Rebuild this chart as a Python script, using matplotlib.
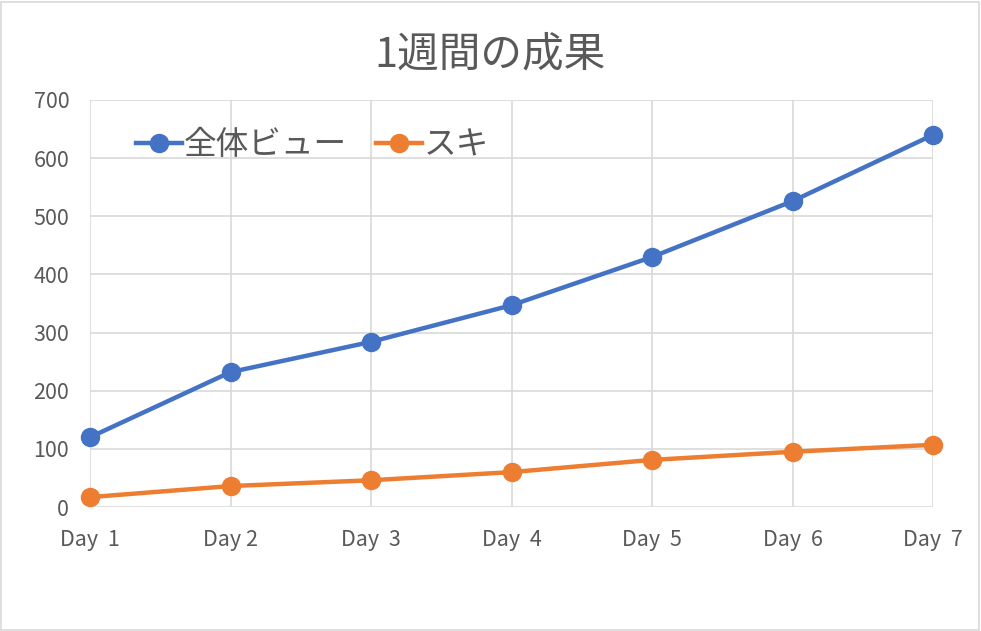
import numpy as np
import matplotlib.pyplot as plt
from matplotlib.patches import Rectangle

plt.rcParams['font.family'] = ['Noto Sans CJK JP', 'DejaVu Sans']

#データ
days = ['Day  1', 'Day 2', 'Day  3', 'Day  4', 'Day  5', 'Day  6', 'Day  7']
total_views = [120, 232, 284, 347, 430, 526, 640]
suki = [17, 36, 46, 60, 81, 95, 107]
yticks = [0, 100, 200, 300, 400, 500, 600, 700]

W, H = 981, 631
fig = plt.figure(figsize=(W / 100, H / 100), dpi=100)
ax = fig.add_axes([90 / W, (H - 507) / H, (933 - 90) / W, (507 - 100) / H])

x = np.arange(len(days))
ax.plot(x, total_views, color='#4472c4', lw=3.2, marker='o', ms=13, label='全体ビュー', zorder=3, clip_on=False)
ax.plot(x, suki, color='#ed7d31', lw=3.2, marker='o', ms=13, label='スキ', zorder=3, clip_on=False)

ax.set_xlim(0, len(days) - 1)
ax.set_ylim(0, 700)
ax.set_yticks(yticks)
ax.set_xticks(x)
ax.set_xticklabels(days)
ax.grid(True, color='#d9d9d9', lw=1.2)
ax.set_axisbelow(True)
for s in ax.spines.values():
    s.set_visible(False)
ax.tick_params(length=0, labelsize=15.5, colors='#595959')
ax.tick_params(axis='x', pad=16)
ax.tick_params(axis='y', pad=15)

leg = ax.legend(loc='upper left', bbox_to_anchor=(0.02, 1.0), ncol=2, frameon=False,
                fontsize=23.5, handlelength=1.4, handletextpad=0.05, columnspacing=0.9)
for t in leg.get_texts():
    t.set_color('#595959')

fig.text(0.5, 1 - 55 / H, '1週間の成果', ha='center', va='center', fontsize=30, color='#595959')

# 外枠
fig.patches.append(Rectangle((1 / W, 1 / H), (W - 3) / W, (H - 3) / H, transform=fig.transFigure,
                             fill=False, edgecolor='#d9d9d9', lw=1.2))

fig.savefig('out.png', dpi=100)
